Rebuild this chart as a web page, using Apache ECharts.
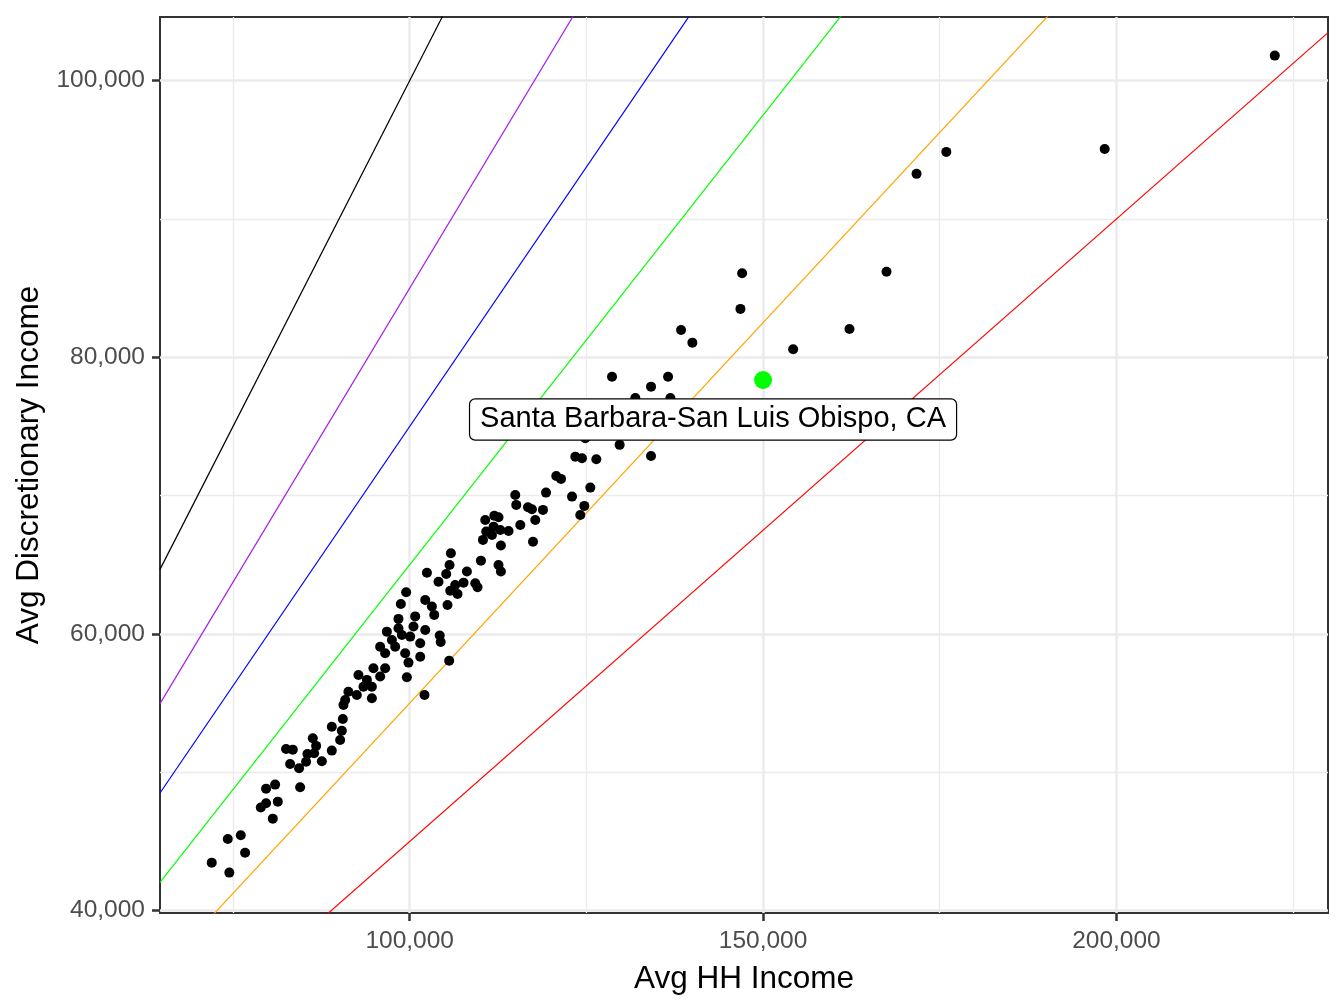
<!DOCTYPE html>
<html>
<head>
<meta charset="utf-8">
<script src="https://cdn.jsdelivr.net/npm/echarts@6/dist/echarts.min.js"></script>
<style>
    html, body { margin: 0; padding: 0; background: #fff; }
    #main { width: 1344px; height: 1008px; }
</style>
</head>
<body>
<div id="main"></div>
<script>
    // metro areas: avg household income vs avg discretionary income
    var hhIncome = [
        71990, 74480, 74260, 76100, 76710, 78930, 79680, 81340, 80630, 79680,
        80960, 84500, 82510, 83460, 83080, 84350, 85340, 85530, 86290, 86760,
        86480, 87570, 88980, 88980, 90160, 90400, 90540, 98410, 100540, 96770,
        98900, 100070, 97480, 101490, 95820, 97950, 96530, 99360, 101490, 99830,
        96530, 94870, 92750, 95820, 93940, 99600, 94650, 93460, 91330, 94650,
        92520, 90870, 90630, 102100, 102440, 105170, 105640, 108100, 104080, 106440,
        105740, 99500, 98750, 102200, 103140, 103470, 105350, 98410, 100780, 104250,
        104390, 105590, 102200, 114940, 119290, 115080, 116740, 117300, 118860, 111970,
        112570, 110690, 117770, 115650, 111870, 112820, 113990, 110830, 111640, 110370,
        117450, 112910, 105830, 110080, 112570, 112910, 107620, 109280, 109600, 106770,
        124850, 129710, 123440, 124380, 126410, 134150, 120740, 121410, 125560, 122970,
        124710, 124140, 147040, 146800, 138400, 140000, 154260, 128630, 136560, 134150,
        131930, 136890, 222410, 198340, 175930, 171720, 167470, 162230
    ];
    var discIncome = [
        43470, 42750, 45180, 45450, 44190, 47450, 47760, 47880, 46650, 48820,
        49110, 48920, 51690, 51640, 50600, 50290, 50770, 51330, 52460, 51910,
        51380, 50800, 51570, 53300, 52340, 53010, 53860, 60410, 60540, 60170,
        59930, 59810, 59570, 59330, 59080, 59080, 58610, 58610, 58360, 57930,
        57520, 57520, 57040, 56920, 56680, 56870, 56190, 56190, 55830, 55350,
        55590, 55230, 54870, 55590, 64430, 64340, 64990, 64510, 63780, 63540,
        63130, 63020, 62170, 62460, 61980, 61380, 62100, 61090, 61270, 59890,
        59420, 58070, 60290, 70050, 70220, 69330, 69160, 69020, 68970, 68550,
        68440, 68240, 68240, 67880, 67760, 67520, 67450, 67400, 67160, 66800,
        66670, 66390, 65840, 65300, 64990, 64510, 63710, 63670, 63380, 62890,
        74150, 73670, 72820, 72700, 72630, 72870, 71420, 71210, 70580, 69930,
        69260, 68600, 86080, 83500, 81980, 81060, 80580, 78600, 78600, 77880,
        77060, 77060, 101810, 95060, 94850, 93260, 86190, 82050
    ];

    // highlighted metro
    var highlightName = 'Santa Barbara-San Luis Obispo, CA';
    var highlightHH = [150000];
    var highlightDisc = [78360];

    // reference lines y = slope * x
    var lineSlopes = [1.0, 0.85, 0.75, 0.65, 0.55, 0.45];
    var lineColors = ['#000000', '#A020F0', '#0000FF', '#00FF00', '#FFA500', '#FF0000'];

    // ticks
    var xMajor = [100000, 150000, 200000];
    var xMinor = [75000, 125000, 175000, 225000];
    var yMajor = [40000, 60000, 80000, 100000];
    var yMinor = [50000, 70000, 90000];
    var xRange = [64670, 229940];
    var yRange = [39830, 104600];

    var chart = echarts.init(document.getElementById('main'), null, {renderer: 'canvas'});

    function fmt(v) {
        return String(Math.round(v)).replace(/\B(?=(\d{3})+(?!\d))/g, ',');
    }

    var font = '"Liberation Sans", Arial, sans-serif';

    var points = hhIncome.map(function (x, i) {
        return [x, discIncome[i]];
    });

    var series = [];
    lineSlopes.forEach(function (k, i) {
        series.push({
            type: 'line',
            data: [[xRange[0], k * xRange[0]], [xRange[1], k * xRange[1]]],
            showSymbol: false,
            silent: true,
            clip: true,
            lineStyle: {color: lineColors[i], width: 1.2},
            z: 2
        });
    });
    series.push({
        type: 'scatter',
        data: points,
        symbolSize: 10,
        itemStyle: {color: '#000', opacity: 1},
        silent: true,
        z: 3
    });
    series.push({
        type: 'scatter',
        data: highlightHH.map(function (x, i) { return [x, highlightDisc[i]]; }),
        symbolSize: 18,
        itemStyle: {color: '#00FF00', opacity: 1},
        silent: true,
        z: 10,
        label: {
            show: true,
            formatter: highlightName,
            position: 'inside',
            offset: [-50, 39.5],
            fontFamily: font,
            fontSize: 29,
            color: '#000',
            textBorderWidth: 0,
            backgroundColor: '#fff',
            borderColor: '#000',
            borderWidth: 1.2,
            borderRadius: 5,
            padding: [6, 10, 5, 10]
        }
    });

    var option = {
        animation: false,
        backgroundColor: '#fff',
        grid: {
            left: 160,
            top: 17,
            width: 1168,
            height: 896,
            show: true,
            borderColor: '#333333',
            borderWidth: 2,
            backgroundColor: '#fff'
        },
        xAxis: [{
            type: 'value',
            min: xRange[0],
            max: xRange[1],
            position: 'bottom',
            axisLine: {show: false},
            axisTick: {show: true, customValues: xMajor, length: 8, lineStyle: {color: '#333333', width: 2.5}},
            axisLabel: {
                customValues: xMajor,
                formatter: fmt,
                color: '#4D4D4D',
                fontFamily: font,
                fontSize: 24.5,
                margin: 16
            },
            splitLine: {show: true, lineStyle: {color: '#EBEBEB', width: 2.5}},
            name: 'Avg HH Income',
            nameLocation: 'middle',
            nameGap: 50,
            nameTextStyle: {color: '#000', fontFamily: font, fontSize: 31.5}
        }, {
            type: 'value',
            min: xRange[0],
            max: xRange[1],
            position: 'bottom',
            axisLine: {show: false},
            axisTick: {show: true, customValues: xMinor, length: 0, lineStyle: {width: 0}},
            axisLabel: {show: false},
            splitLine: {show: true, lineStyle: {color: '#EBEBEB', width: 1.3}}
        }],
        yAxis: [{
            type: 'value',
            min: yRange[0],
            max: yRange[1],
            position: 'left',
            axisLine: {show: false},
            axisTick: {show: true, customValues: yMajor, length: 8, lineStyle: {color: '#333333', width: 2.5}},
            axisLabel: {
                customValues: yMajor,
                formatter: fmt,
                color: '#4D4D4D',
                fontFamily: font,
                fontSize: 24.5,
                margin: 15
            },
            splitLine: {show: true, lineStyle: {color: '#EBEBEB', width: 2.5}},
            name: 'Avg Discretionary Income',
            nameLocation: 'middle',
            nameGap: 112,
            nameTextStyle: {color: '#000', fontFamily: font, fontSize: 31.5}
        }, {
            type: 'value',
            min: yRange[0],
            max: yRange[1],
            position: 'left',
            axisLine: {show: false},
            axisTick: {show: true, customValues: yMinor, length: 0, lineStyle: {width: 0}},
            axisLabel: {show: false},
            splitLine: {show: true, lineStyle: {color: '#EBEBEB', width: 1.3}}
        }],
        series: series
    };

    chart.setOption(option);
</script>
</body>
</html>
